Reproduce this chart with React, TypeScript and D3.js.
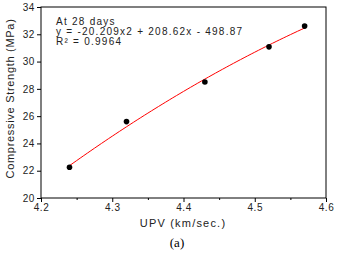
import React, { useEffect, useRef } from 'react';
import * as d3 from 'd3';

const upv = [4.24, 4.32, 4.43, 4.52, 4.57];
const strength = [22.25, 25.6, 28.5, 31.08, 32.6];
// trendline coefficients as printed on the chart: a*x^2 + b*x + c
const trendCoef = [-20.209, 208.62, -498.87];
const xTicks = [4.2, 4.3, 4.4, 4.5, 4.6];
const yTicks = [20, 22, 24, 26, 28, 30, 32, 34];
const notes = ['At 28 days', 'y = -20.209x2 + 208.62x - 498.87', 'R² = 0.9964'];

const Chart = () => {
  const ref = useRef<SVGSVGElement>(null);

  useEffect(() => {
    document.body.style.margin = '0';
    const margin = { top: 7, right: 11, bottom: 59, left: 41 };
    const width = 337 - margin.left - margin.right;
    const height = 257 - margin.top - margin.bottom;
    const font = 'Arial, "Liberation Sans", sans-serif';

    const root = d3.select(ref.current);
    root.selectAll('*').remove();
    const svg = root
      .append('g')
      .attr('transform', `translate(${margin.left},${margin.top})`);

    const x = d3.scaleLinear().domain([4.2, 4.6]).range([0, width]);
    const y = d3.scaleLinear().domain([20, 34]).range([height, 0]);

    // frame
    svg
      .append('rect')
      .attr('width', width)
      .attr('height', height)
      .attr('fill', 'none')
      .attr('stroke', '#000')
      .attr('stroke-width', 1);

    const xAxis = svg
      .append('g')
      .attr('transform', `translate(0,${height})`)
      .call(d3.axisBottom(x).tickValues(xTicks).tickSize(4).tickPadding(2).tickFormat(d3.format('.1f')));
    svg
      .append('g')
      .attr('transform', `translate(0,${height})`)
      .call(d3.axisBottom(x).tickValues(d3.range(4.25, 4.6, 0.1)).tickSize(2).tickFormat(() => ''));
    const yAxis = svg
      .append('g')
      .call(d3.axisLeft(y).tickValues(yTicks).tickSize(4).tickPadding(2));

    svg.selectAll('.domain').remove();
    svg.selectAll('.tick line').attr('stroke', '#000');
    [xAxis, yAxis].forEach((g) =>
      g
        .selectAll('text')
        .attr('font-family', font)
        .attr('font-size', 10)
        .attr('letter-spacing', 0.6)
        .attr('fill', '#222')
    );

    const [a, b, c] = trendCoef;
    const fitX = d3.range(upv[0], upv[upv.length - 1] + 0.0001, 0.005);
    const line = d3
      .line<number>()
      .x((d) => x(d))
      .y((d) => y(a * d * d + b * d + c));
    svg
      .append('path')
      .datum(fitX)
      .attr('d', line)
      .attr('fill', 'none')
      .attr('stroke', '#ff0000')
      .attr('stroke-width', 1);

    svg
      .selectAll('.dot')
      .data(upv)
      .enter()
      .append('circle')
      .attr('cx', (d) => x(d))
      .attr('cy', (d, i) => y(strength[i]))
      .attr('r', 2.8)
      .attr('fill', '#000');

    svg
      .selectAll('.note')
      .data(notes)
      .enter()
      .append('text')
      .attr('x', 15)
      .attr('y', (d, i) => 18 + i * 10)
      .attr('font-family', font)
      .attr('font-size', 10)
      .attr('letter-spacing', 1.25)
      .attr('fill', '#222')
      .text((d) => d);

    svg
      .append('text')
      .attr('x', 183 - margin.left)
      .attr('y', 227 - margin.top)
      .attr('text-anchor', 'middle')
      .attr('font-family', font)
      .attr('font-size', 11)
      .attr('letter-spacing', 1.2)
      .attr('fill', '#222')
      .text('UPV (km/sec.)');

    svg
      .append('text')
      .attr('transform', `translate(${14 - margin.left},${98.5 - margin.top}) rotate(-90)`)
      .attr('text-anchor', 'middle')
      .attr('font-family', font)
      .attr('font-size', 11)
      .attr('letter-spacing', 0.7)
      .attr('fill', '#222')
      .text('Compressive Strength (MPa)');

    svg
      .append('text')
      .attr('x', 177 - margin.left)
      .attr('y', 247 - margin.top)
      .attr('text-anchor', 'middle')
      .attr('font-family', 'Times New Roman, "Liberation Serif", serif')
      .attr('font-size', 13)
      .text('(a)');
  }, []);

  return <svg ref={ref} width={337} height={257} style={{ display: 'block' }} />;
};

export default function App() {
  return (
    <div>
      <Chart />
    </div>
  );
}
